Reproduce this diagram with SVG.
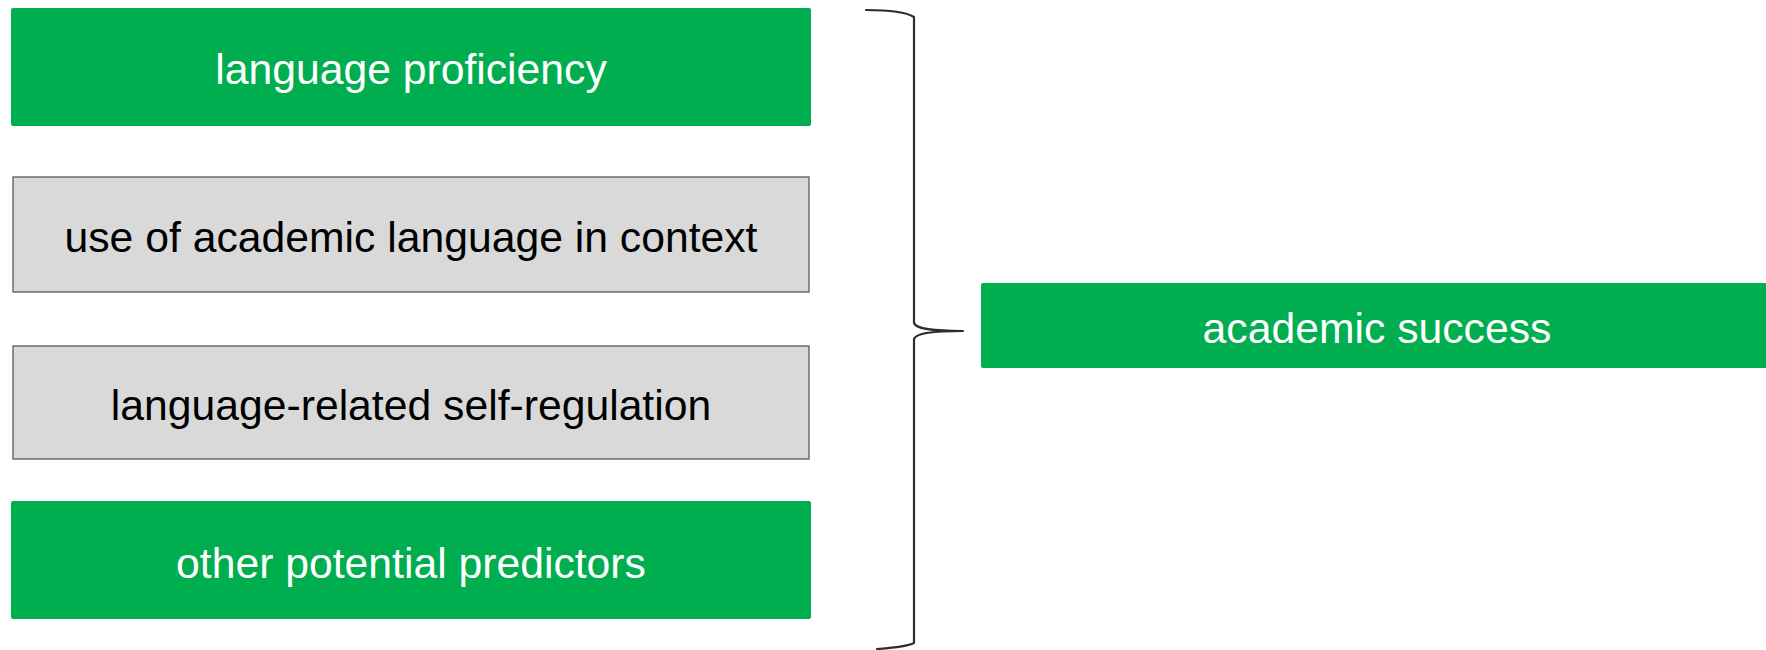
<svg xmlns="http://www.w3.org/2000/svg" width="1766" height="650" viewBox="0 0 1766 650">
<style>
.g{fill:#00ae50;}
.p{fill:#d9d9d9;stroke:#595959;stroke-width:1.3;}
.t{font-family:"Liberation Sans",Arial,sans-serif;font-size:42.7px;text-anchor:middle;}
.w{fill:#ffffff;}
.k{fill:#000000;}
.b{fill:none;stroke:#2b2d33;stroke-width:2.2;stroke-linecap:round;stroke-linejoin:round;}
</style>
<rect width="1766" height="650" fill="#ffffff"/>
<g id="n1"><rect class="g" x="11" y="8" width="800" height="118" rx="2"/><text class="t w" x="411" y="84">language proficiency</text></g>
<g id="n2"><rect class="p" x="13" y="177" width="796" height="115"/><text class="t k" x="411" y="252">use of academic language in context</text></g>
<g id="n3"><rect class="p" x="13" y="346" width="796" height="113"/><text class="t k" x="411" y="420">language-related self-regulation</text></g>
<g id="n4"><rect class="g" x="11" y="501" width="800" height="118" rx="2"/><text class="t w" x="411" y="578">other potential predictors</text></g>
<g id="n5"><rect class="g" x="981" y="283" width="790" height="85" rx="2"/><text class="t w" x="1377" y="343">academic success</text></g>
<g id="connectors">
<path class="b" d="M866,10 C890,10 906,12 914,17 L914,323 C916,328 928,331 963,331 C928,331 916,334 914,339 L914,643 C906,647 890,648 877,649"/>
</g>
</svg>
